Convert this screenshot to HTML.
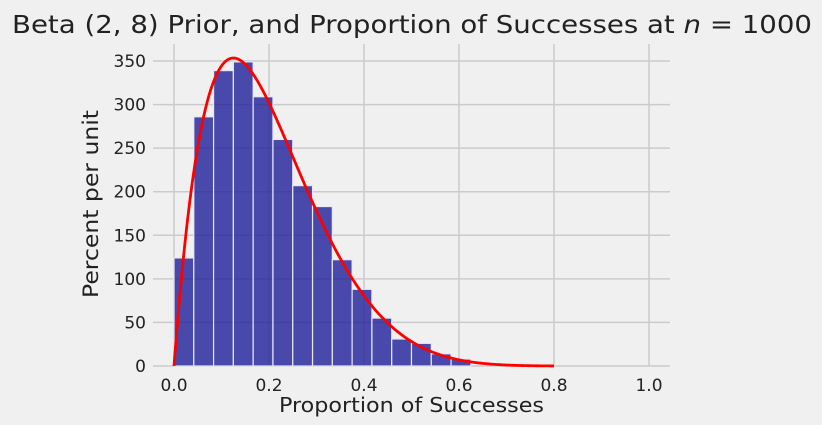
<!DOCTYPE html>
<html><head><meta charset="utf-8"><style>
body{margin:0;background:#f0f0f0;}
svg{display:block;font-family:"DejaVu Sans","Liberation Sans",sans-serif;}
</style></head><body>
<svg id="chart" width="822" height="425">
<rect x="0" y="0" width="822" height="425" fill="#f0f0f0"/>
<text x="12" y="33" font-size="25" textLength="800" lengthAdjust="spacingAndGlyphs" fill="#222">Beta (2, 8) Prior, and Proportion of Successes at <tspan font-style="italic">n</tspan> = 1000</text>
<g id="grid"></g><g id="bars"></g><g id="curve"></g><g id="ticks"></g>
<text x="279" y="412" font-size="20" textLength="265" lengthAdjust="spacingAndGlyphs" fill="#222">Proportion of Successes</text>
<text transform="translate(98,298) rotate(-90)" font-size="21" textLength="188" lengthAdjust="spacingAndGlyphs" fill="#222">Percent per unit</text>
</svg>
<script>
const binWidth = 0.04167;
const binStarts = [0,0.04167,0.08333,0.125,0.16667,0.20833,0.25,0.29167,0.33333,0.375,0.41667,0.45833,0.5,0.54167,0.58333];
const binHeights = [124,286,339,349,309,260,207,183,122,88,55,31,26,14,8];
const xTicks = [0,0.2,0.4,0.6,0.8,1.0];
const xTickLabels = ["0.0","0.2","0.4","0.6","0.8","1.0"];
const yTicks = [0,50,100,150,200,250,300,350];
const priorA = 2, priorB = 8;
const NS="http://www.w3.org/2000/svg";
const X0=153,X1=670,Y0=366,Y1=44;
const xs=v=>174+v*475;
const ys=v=>366-v*0.8714;
function mk(tag,attrs,parent){const e=document.createElementNS(NS,tag);for(const k in attrs)e.setAttribute(k,attrs[k]);document.getElementById(parent).appendChild(e);return e;}
xTicks.forEach((t,i)=>{
  const l=mk('line',{x1:xs(t),x2:xs(t),y1:Y1,y2:Y0,stroke:'#cbcbcb','stroke-width':1.5},'grid');
  
  
  const tx=mk('text',{x:xs(t),y:391,'font-size':17,'text-anchor':'middle',fill:'#222'},'ticks');
  tx.textContent=xTickLabels[i];
  
  
});
yTicks.forEach(t=>{
  const l=mk('line',{x1:X0,x2:X1,y1:ys(t),y2:ys(t),stroke:'#cbcbcb','stroke-width':1.5},'grid');
  
  
  const tx=mk('text',{x:146,y:ys(t)+6,'font-size':17,'text-anchor':'end',fill:'#222'},'ticks');
  tx.textContent=t;
  
  
});
binStarts.forEach((s,i)=>{
  const r=mk('rect',{x:xs(s),y:ys(binHeights[i]),width:xs(s+binWidth)-xs(s),height:ys(0)-ys(binHeights[i]),fill:'rgba(35,35,155,0.82)',stroke:'#e8e8f0','stroke-width':1.2},'bars');
  
  
});
function lbeta(a,b){let f=n=>{let r=1;for(let i=2;i<n;i++)r*=i;return r;};return f(a)*f(b)/f(a+b);}
const B=lbeta(priorA,priorB);
let d='';
for(let k=0;k<=400;k++){const x=k/400*0.8;const p=Math.pow(x,priorA-1)*Math.pow(1-x,priorB-1)/B*100;d+=(k?'L':'M')+xs(x).toFixed(2)+','+ys(p).toFixed(2);}
const c=mk('path',{d:d,fill:'none',stroke:'#ff0000','stroke-width':2.8},'curve');


</script>
</body></html>
